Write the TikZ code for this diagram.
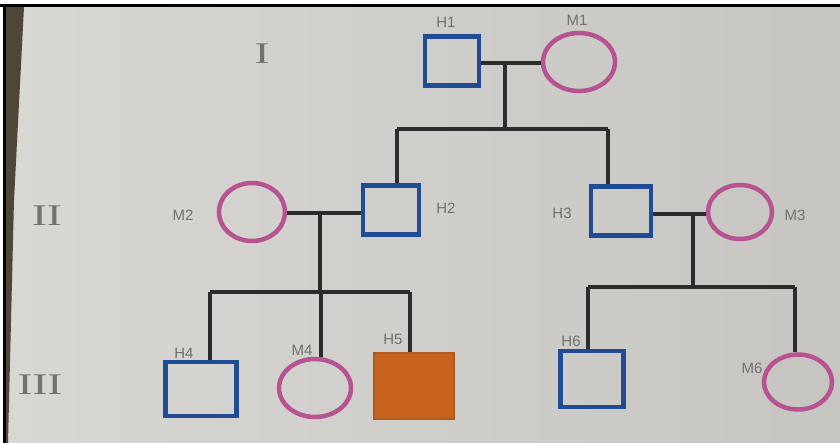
\documentclass[tikz,border=0pt]{standalone}
\usepackage{fontspec}
\setmainfont{Liberation Serif}
\newfontfamily\handfont{Liberation Sans}
\usetikzlibrary{shapes.geometric}

\definecolor{paperlight}{HTML}{D9D7D3}
\definecolor{paperdark}{HTML}{C7C5C1}
\definecolor{tabletop}{HTML}{4E4636}
\definecolor{inkblue}{HTML}{1F4C94}
\definecolor{inkpink}{HTML}{B65391}
\definecolor{inkblack}{HTML}{2C2C2C}
\definecolor{inkorange}{HTML}{C8631F}
\definecolor{pencil}{HTML}{72716E}

\tikzset{
  x=1pt, y=-1pt,
  male/.style={rectangle, draw=inkblue, line width=4.5pt, inner sep=0pt},
  female/.style={ellipse, draw=inkpink, line width=4.5pt, inner sep=0pt},
  affected/.style={rectangle, draw=inkorange!90!black, fill=inkorange, line width=2pt, inner sep=0pt},
  link/.style={draw=inkblack, line width=4.5pt},
  tag/.style={text=pencil, font=\handfont\fontsize{15}{15}\selectfont, inner sep=0pt},
  gen/.style={text=pencil, font=\fontsize{30}{30}\selectfont, inner sep=0pt, xscale=1.5},
}

\begin{document}
\begin{tikzpicture}
  % sheet of paper on the table
  \useasboundingbox (0,0) rectangle (840,443);
  \fill[white] (0,0) rectangle (840,443);
  \shade[left color=paperlight, right color=paperdark] (6,7) rectangle (840,443);
  \fill[tabletop] (6,7) -- (24,7) -- (14,200) -- (8,443) -- (6,443) -- cycle;
  \fill[black] (0,4) rectangle (840,7);
  \fill[black] (3,4) rectangle (6,443);

  % generation numerals
  \node[gen] (g1) at (262,54) {I};
  \node[gen] (g2) at (47,216) {II};
  \node[gen] (g3) at (40,385) {III};

  % generation I
  \node[male, minimum width=54pt, minimum height=49pt] (H1) at (452,61) {};
  \node[female, minimum width=72pt, minimum height=58pt] (M1) at (579,62) {};

  % generation II
  \node[female, minimum width=66pt, minimum height=58pt] (M2) at (252,212) {};
  \node[male, minimum width=56pt, minimum height=49pt] (H2) at (391,210) {};
  \node[male, minimum width=60pt, minimum height=49pt] (H3) at (621,211) {};
  \node[female, minimum width=64pt, minimum height=54pt] (M3) at (740,212) {};

  % generation III
  \node[male, minimum width=71pt, minimum height=54pt] (H4) at (201,389) {};
  \node[female, minimum width=72pt, minimum height=58pt] (M4) at (315,388) {};
  \node[affected, minimum width=80pt, minimum height=66pt] (H5) at (414,386) {};
  \node[male, minimum width=63pt, minimum height=56pt] (H6) at (592,379) {};
  \node[female, minimum width=68pt, minimum height=55pt] (M6) at (798,382) {};

  % names
  \node[tag] (tH1) at (446,22) {H1};
  \node[tag] (tM1) at (577,20) {M1};
  \node[tag] (tM2) at (183,215) {M2};
  \node[tag] (tH2) at (446,208) {H2};
  \node[tag] (tH3) at (562,213) {H3};
  \node[tag] (tM3) at (795,215) {M3};
  \node[tag] (tH4) at (184,353) {H4};
  \node[tag] (tM4) at (302,350) {M4};
  \node[tag] (tH5) at (393,339) {H5};
  \node[tag] (tH6) at (571,341) {H6};
  \node[tag] (tM6) at (752,368) {M6};

  % family H1 x M1
  \coordinate (c1) at (505,63);
  \coordinate (s1a) at (397,129);
  \coordinate (s1b) at (608,129);
  \path[link] (H1.east |- c1) -- (M1.west |- c1);
  \path[link] (c1) -- (c1 |- s1a);
  \path[link] (s1a) -- (s1b);
  \path[link] (s1a) -- (s1a |- H2.north);
  \path[link] (s1b) -- (s1b |- H3.north);

  % family M2 x H2
  \coordinate (c2) at (320,213);
  \coordinate (s2a) at (210,292);
  \coordinate (s2m) at (321,292);
  \coordinate (s2b) at (410,292);
  \path[link] (M2.east |- c2) -- (H2.west |- c2);
  \path[link] (c2) -- (c2 |- s2a);
  \path[link] (s2a) -- (s2b);
  \path[link] (s2a) -- (s2a |- H4.north);
  \path[link] (s2m) -- (s2m |- M4.north);
  \path[link] (s2b) -- (s2b |- H5.north);

  % family H3 x M3
  \coordinate (c3) at (693,214);
  \coordinate (s3a) at (588,287);
  \coordinate (s3b) at (795,287);
  \path[link] (H3.east |- c3) -- (M3.west |- c3);
  \path[link] (c3) -- (c3 |- s3a);
  \path[link] (s3a) -- (s3b);
  \path[link] (s3a) -- (s3a |- H6.north);
  \path[link] (s3b) -- (s3b |- M6.north);
\end{tikzpicture}
\end{document}
